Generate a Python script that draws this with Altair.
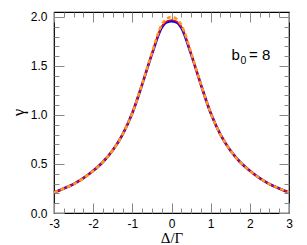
import altair as alt
import pandas as pd

# ---- data ----
X = [-3.0, -2.75, -2.5, -2.25, -2.0, -1.75, -1.5, -1.25, -1.0, -0.75, -0.5, -0.25, -0.125, 0.0,
     0.125, 0.25, 0.5, 0.75, 1.0, 1.25, 1.5, 1.75, 2.0, 2.25, 2.5, 2.75, 3.0]
BLUE = [0.21, 0.25, 0.295, 0.355, 0.43, 0.52, 0.64, 0.80, 1.02, 1.31, 1.62, 1.89, 1.945, 1.955,
        1.945, 1.89, 1.62, 1.31, 1.02, 0.80, 0.64, 0.52, 0.43, 0.355, 0.295, 0.25, 0.21]
RED = [0.21, 0.25, 0.295, 0.355, 0.43, 0.52, 0.64, 0.80, 1.02, 1.31, 1.625, 1.90, 1.955, 1.97,
       1.955, 1.90, 1.625, 1.31, 1.02, 0.80, 0.64, 0.52, 0.43, 0.355, 0.295, 0.25, 0.21]
ORANGE = [0.21, 0.25, 0.295, 0.355, 0.43, 0.52, 0.64, 0.80, 1.02, 1.315, 1.635, 1.92, 1.98, 2.0,
          1.98, 1.92, 1.635, 1.315, 1.02, 0.80, 0.64, 0.52, 0.43, 0.355, 0.295, 0.25, 0.21]

X_MAJOR = [-3, -2, -1, 0, 1, 2, 3]
X_MINOR = [-2.75, -2.5, -2.25, -1.75, -1.5, -1.25, -0.75, -0.5, -0.25,
           0.25, 0.5, 0.75, 1.25, 1.5, 1.75, 2.25, 2.5, 2.75]
Y_MAJOR = [0.0, 0.5, 1.0, 1.5, 2.0]
Y_MINOR = [0.1, 0.2, 0.3, 0.4, 0.6, 0.7, 0.8, 0.9, 1.1, 1.2, 1.3, 1.4, 1.6, 1.7, 1.8, 1.9]

ANN_TEXT = ["b", "0", "= 8"]
ANN_X = [1.53, 1.76, 1.98]
ANN_Y = [1.565, 1.52, 1.565]

X_TITLE = "Δ/Γ"
Y_TITLE = "γ"

W, H = 235, 201

df = pd.DataFrame({"x": X, "blue": BLUE, "red": RED, "orange": ORANGE})

xs = alt.Scale(domain=[-3, 3], nice=False, zero=False)
ys = alt.Scale(domain=[0, 2.05], nice=False, zero=False)

TICK_COLOR = "#888888"
SANS = "Liberation Sans"
SERIF = "Liberation Serif"


def tick_axis(orient, values, size, offset):
    return alt.Axis(orient=orient, values=values, tickSize=size, offset=offset,
                    labels=False, domain=False, grid=False, title="",
                    tickColor=TICK_COLOR, tickWidth=1)


base = alt.Chart(df)

blue = base.mark_line(color="#0000ff", strokeWidth=2.6, interpolate="monotone").encode(
    x=alt.X("x:Q", scale=xs, axis=alt.Axis(
        orient="bottom", values=X_MAJOR, labelExpr="datum.value + ''",
        ticks=False, tickSize=0, domain=False, grid=False, labelPadding=5,
        labelFlush=False, labelOverlap=False,
        labelFont=SANS, labelFontSize=12, labelColor="black",
        title=X_TITLE, titleFont=SERIF, titleFontSize=15, titleFontWeight="normal",
        titleColor="black", titleBaseline="alphabetic", titleY=29)),
    y=alt.Y("blue:Q", scale=ys, axis=alt.Axis(
        orient="left", values=Y_MAJOR, format=".1f",
        ticks=False, tickSize=0, domain=False, grid=False, labelPadding=7,
        labelFlush=False, labelOverlap=False,
        labelFont=SANS, labelFontSize=12, labelColor="black",
        title=Y_TITLE, titleFont=SERIF, titleFontSize=17, titleFontWeight="normal",
        titleColor="black", titleAngle=270, titleBaseline="alphabetic",
        titleX=-31, titleY=100)),
)

red = base.mark_line(color="#ff0000", strokeWidth=1.4, interpolate="monotone").encode(
    x=alt.X("x:Q", scale=xs, axis=tick_axis("top", X_MAJOR, 10, -H)),
    y=alt.Y("red:Q", scale=ys, axis=tick_axis("right", Y_MAJOR, 10, -W)),
)

orange = base.mark_line(color="#ff9a1a", strokeWidth=2.6, strokeDash=[4, 3],
                        interpolate="monotone").encode(
    x=alt.X("x:Q", scale=xs, axis=tick_axis("top", X_MINOR, 5, -H)),
    y=alt.Y("orange:Q", scale=ys, axis=tick_axis("right", Y_MINOR, 5, -W)),
)

ghost1 = base.mark_line(opacity=0).encode(
    x=alt.X("x:Q", scale=xs, axis=tick_axis("bottom", X_MAJOR, 10, -H)),
    y=alt.Y("blue:Q", scale=ys, axis=tick_axis("left", Y_MAJOR, 10, -W)),
)

ghost2 = base.mark_line(opacity=0).encode(
    x=alt.X("x:Q", scale=xs, axis=tick_axis("bottom", X_MINOR, 5, -H)),
    y=alt.Y("blue:Q", scale=ys, axis=tick_axis("left", Y_MINOR, 5, -W)),
)

ann_layers = []
for t, ax, ay, fs in zip(ANN_TEXT, ANN_X, ANN_Y, [15, 10.5, 15]):
    d = pd.DataFrame({"t": [t], "ax": [ax], "ay": [ay]})
    ann_layers.append(
        alt.Chart(d).mark_text(align="left", baseline="alphabetic", font=SANS,
                               fontSize=fs, color="black").encode(
            x=alt.X("ax:Q", scale=xs, axis=None),
            y=alt.Y("ay:Q", scale=ys, axis=None),
            text="t:N",
        )
    )

chart = alt.layer(ghost1, ghost2, blue, red, orange, *ann_layers).properties(
    width=W, height=H,
    autosize=alt.AutoSizeParams(type="none"),
    padding={"left": 46, "top": 4, "right": 10, "bottom": 32},
).configure_view(stroke="black", strokeWidth=1.2)

chart.save("out.html", embed_options={"renderer": "svg", "actions": False})
